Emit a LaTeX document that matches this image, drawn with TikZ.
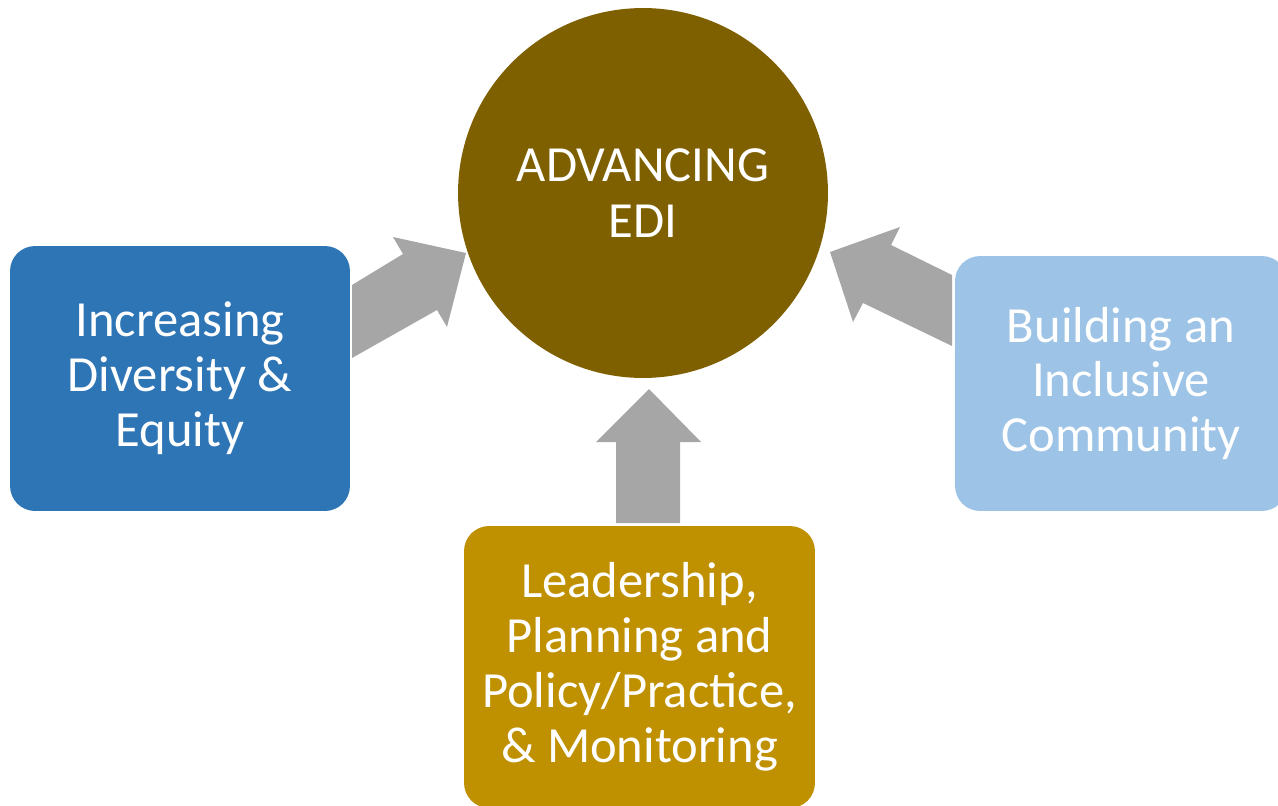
\documentclass[tikz,border=0pt]{standalone}
\usepackage{fontspec}
\setmainfont{Carlito}
\usepackage{tikz}
\usetikzlibrary{calc}

\definecolor{ediolive}{HTML}{7F6000}
\definecolor{ediblue}{HTML}{2E75B6}
\definecolor{edilight}{HTML}{9DC3E6}
\definecolor{edigold}{HTML}{BF9000}
\definecolor{edigray}{HTML}{A6A6A6}

\tikzset{
    pillar/.style={rounded corners=0.5cm, inner sep=0pt, align=center, text=white,
        font=\fontsize{28.8}{31.3}\selectfont},
    blockarrow/.style={fill=edigray, draw=none}
}

\begin{document}
\begin{tikzpicture}[x=0.02cm, y=-0.02cm]
        \useasboundingbox (0,0) rectangle (1278,805);

        \node[circle, fill=ediolive, minimum size=7.4cm, inner sep=0pt, align=center,
              text=white, font=\fontsize{28.8}{31.8}\selectfont] (edi) at (643,193) {ADVANCING\\EDI};

        \node[pillar, fill=ediblue, minimum width=6.8cm, minimum height=5.3cm] (diversity) at (180,378.5)
            {Increasing\\Diversity \&\\Equity};
        \node[pillar, fill=edilight, minimum width=6.64cm, minimum height=5.1cm] (inclusive) at (1121,383.5)
            {Building an\\Inclusive\\Community};
        \node[pillar, fill=edigold, minimum width=7.02cm, minimum height=5.64cm] (leadership) at (639.5,667)
            {Leadership,\\Planning and\\Policy/Practice,\\\& Monitoring};

        % arrows into the circle
        \fill[blockarrow] (352,358) -- (352,285) -- (403,254) -- (393,237) -- (466,253)
            -- (447,327) -- (437,310) -- cycle;
        \fill[blockarrow] (952,346) -- (952,275) -- (891,245) -- (900,227) -- (830,252)
            -- (853,322) -- (863,303) -- cycle;
        \fill[blockarrow] (616,523) -- (616,442) -- (596,442) -- (649,389) -- (701,442)
            -- (680,442) -- (680,523) -- cycle;

\end{tikzpicture}
\end{document}
